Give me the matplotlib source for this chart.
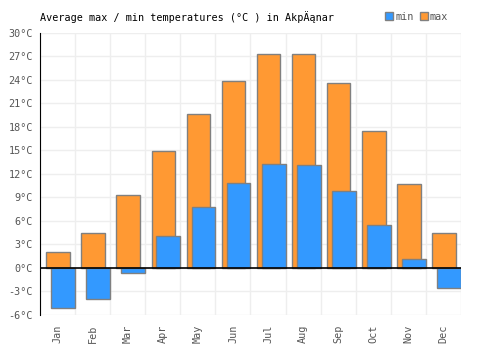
import matplotlib

matplotlib.use("Agg")
import matplotlib.pyplot as plt
import numpy as np
from matplotlib.patches import Patch

months = ["Jan", "Feb", "Mar", "Apr", "May", "Jun",
          "Jul", "Aug", "Sep", "Oct", "Nov", "Dec"]
temp_max = [2.1, 4.5, 9.3, 14.9, 19.7, 23.9, 27.3, 27.3, 23.6, 17.5, 10.7, 4.5]
temp_min = [-5.1, -3.9, -0.7, 4.1, 7.8, 10.9, 13.3, 13.2, 9.8, 5.5, 1.1, -2.6]
yticks = list(range(-6, 31, 3))

plt.rcParams["font.family"] = ["DejaVu Sans Mono", "DejaVu Sans"]

fig = plt.figure(figsize=(5, 3.5), dpi=100)
ax = fig.add_axes([0.08, 0.1, 0.842, 0.806])

x = np.arange(len(months))
ax.bar(x + 0.18, temp_max, width=0.67, align="edge", color="#ff9933",
       edgecolor="#808080", linewidth=1, zorder=3)
ax.bar(x + 0.32, temp_min, width=0.68, align="edge", color="#3399ff",
       edgecolor="#808080", linewidth=1, zorder=4)

ax.axhline(0, color="black", linewidth=1.2, zorder=5)
ax.set_xlim(0, 12)
ax.set_ylim(-6, 30)
ax.set_yticks(yticks)
ax.set_yticklabels([f"{t}°C" for t in yticks], fontsize=7.3, color="#555555")
ax.set_xticks(x + 0.5)
ax.set_xticklabels(months, rotation=90, fontsize=7.3, color="#555555")
ax.set_xticks(np.arange(13), minor=True)
ax.tick_params(axis="x", which="major", length=0, pad=7)
ax.tick_params(axis="x", which="minor", length=0)
ax.tick_params(axis="y", length=0, pad=5)
ax.grid(True, which="minor", axis="x", color="#eeeeee", linewidth=1, zorder=0)
ax.grid(True, which="major", axis="y", color="#eeeeee", linewidth=1, zorder=0)
for side in ("top", "right", "bottom"):
    ax.spines[side].set_visible(False)
ax.spines["left"].set_color("black")

fig.text(0.08, 0.952, "Average max / min temperatures (°C ) in AkpÄąnar",
         fontsize=7.3, ha="left", va="center")
handles = [Patch(facecolor="#3399ff", edgecolor="#808080", label="min"),
           Patch(facecolor="#ff9933", edgecolor="#808080", label="max")]
fig.legend(handles=handles, loc="center right", bbox_to_anchor=(0.915, 0.952),
           ncol=2, frameon=False, fontsize=7.3, handlelength=0.8,
           handleheight=0.8, handletextpad=0.2, columnspacing=0.6,
           labelcolor="#555555")

fig.savefig("out.png", dpi=100)
